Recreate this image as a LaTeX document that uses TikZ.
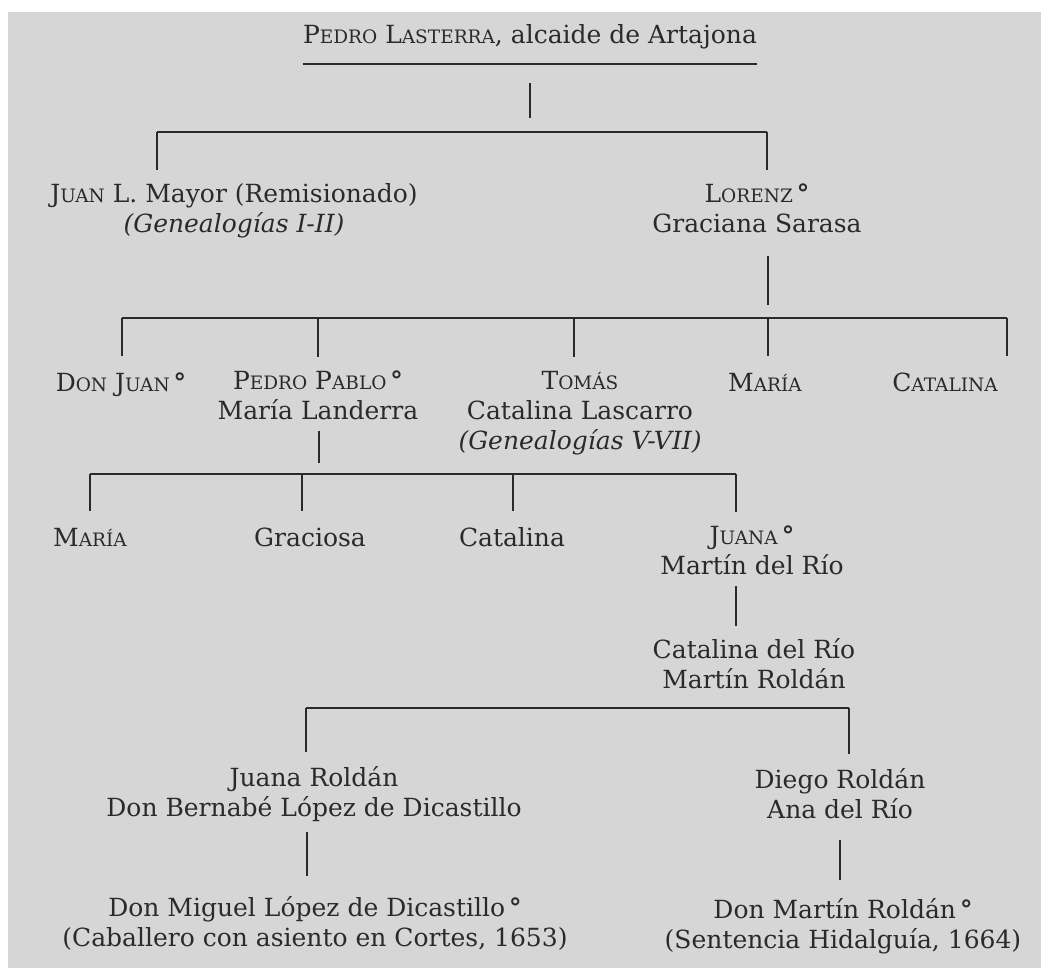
\documentclass[tikz,border=0pt]{standalone}
\usepackage{fontspec}
\setmainfont{DejaVu Serif}
\usetikzlibrary{positioning}
\definecolor{paper}{RGB}{214,214,214}
\definecolor{ink}{RGB}{42,42,42}
% small capitals made by hand
\newcommand{\sca}[2]{#1{\fontsize{18.5}{30}\selectfont #2}}
\newcommand{\dg}{\hspace{4pt}\textbf{°}}
\begin{document}
\begin{tikzpicture}[x=1pt,y=-1pt,
    person/.style={inner sep=0pt,align=center,text=ink,
      font=\fontsize{25}{30}\selectfont,
      execute at begin node=\strut,execute at end node=\strut},
    bar/.style={draw=ink,line width=1.7pt},
    tick/.style={bar,shorten >=14pt}]

  \useasboundingbox (0,0) rectangle (1041,968);
  \fill[white] (0,0) rectangle (1041,968);
  \fill[paper] (8,12) rectangle (1041,968);

  % the persons
  \node[person] (pedro) at (530,38) {\sca{P}{EDRO} \sca{L}{ASTERRA}, alcaide de Artajona};

  \node[person] (juanl) at (234,213) {\sca{J}{UAN} L. Mayor (Remisionado)\\\textit{(Genealogías I-II)}};
  \node[person] (lorenz) at (757,213) {\sca{L}{ORENZ}\dg\\Graciana Sarasa};

  \node[person] (donjuan) at (121,385) {\sca{D}{ON} \sca{J}{UAN}\dg};
  \node[person] (pedropablo) at (318,400) {\sca{P}{EDRO} \sca{P}{ABLO}\dg\\María Landerra};
  \node[person] (tomas) at (580,415) {\sca{T}{OMÁS}\\Catalina Lascarro\\\textit{(Genealogías V-VII)}};
  \node[person] (maria) at (765,385) {\sca{M}{ARÍA}};
  \node[person] (catalina) at (945,385) {\sca{C}{ATALINA}};

  \node[person] (mariab) at (90,540) {\sca{M}{ARÍA}};
  \node[person] (graciosa) at (310,540) {Graciosa};
  \node[person] (catalinab) at (512,540) {Catalina};
  \node[person] (juana) at (752,555) {\sca{J}{UANA}\dg\\Martín del Río};

  \node[person] (catrio) at (754,668) {Catalina del Río\\Martín Roldán};

  \node[person] (juanar) at (314,796) {Juana Roldán\\Don Bernabé López de Dicastillo};
  \node[person] (diego) at (840,798) {Diego Roldán\\Ana del Río};

  \node[person] (miguel) at (315,926) {Don Miguel López de Dicastillo\dg\\(Caballero con asiento en Cortes, 1653)};
  \node[person] (martin) at (843,928) {Don Martín Roldán\dg\\(Sentencia Hidalguía, 1664)};

  % underline of the head
  \draw[bar] ([yshift=-11pt]pedro.south west) -- ([yshift=-11pt]pedro.south east);

  % first generation
  \coordinate (g1a) at (157,132);
  \coordinate (g1b) at (767,132);
  \draw[bar,shorten <=30pt,shorten >=14pt] (pedro.south) -- (pedro.south |- g1a);
  \draw[bar] (g1a) -- (g1b);
  \foreach \n/\c in {a/juanl,b/lorenz}
    \draw[tick] (g1\n) -- (g1\n |- \c.north);

  % children of Lorenz
  \foreach \n/\x in {a/122,b/318,c/574,d/768,e/1007}
    \coordinate (g2\n) at (\x,318);
  \draw[bar,shorten <=14pt,shorten >=13pt] (lorenz.south -| g2d) -- (g2d);
  \draw[bar] (g2a) -- (g2e);
  \foreach \n/\c in {a/donjuan,b/pedropablo,c/tomas,d/maria,e/catalina}
    \draw[tick] (g2\n) -- (g2\n |- \c.north);

  % children of Pedro Pablo
  \foreach \n/\x in {a/90,b/302,c/513,d/736}
    \coordinate (g3\n) at (\x,474);
  \draw[bar,shorten <=2pt,shorten >=11pt] (pedropablo.south -| 319,0) -- (g3b -| 319,0);
  \draw[bar] (g3a) -- (g3d);
  \foreach \n/\c in {a/mariab,b/graciosa,c/catalinab,d/juana}
    \draw[tick] (g3\n) -- (g3\n |- \c.north);
  \draw[bar,shorten <=2pt,shorten >=12pt] (juana.south -| g3d) -- (catrio.north -| g3d);

  % children of Catalina del Rio
  \coordinate (g4a) at (306,708);
  \coordinate (g4b) at (849,708);
  \draw[bar] (g4a) -- (g4b);
  \foreach \n/\c in {a/juanar,b/diego}
    \draw[tick] (g4\n) -- (g4\n |- \c.north);
  \draw[bar,shorten <=6pt,shorten >=20pt] (juanar.south -| 307,0) -- (miguel.north -| 307,0);
  \draw[bar,shorten <=12pt,shorten >=18pt] (diego.south) -- (diego.south |- martin.north);

\end{tikzpicture}
\end{document}
